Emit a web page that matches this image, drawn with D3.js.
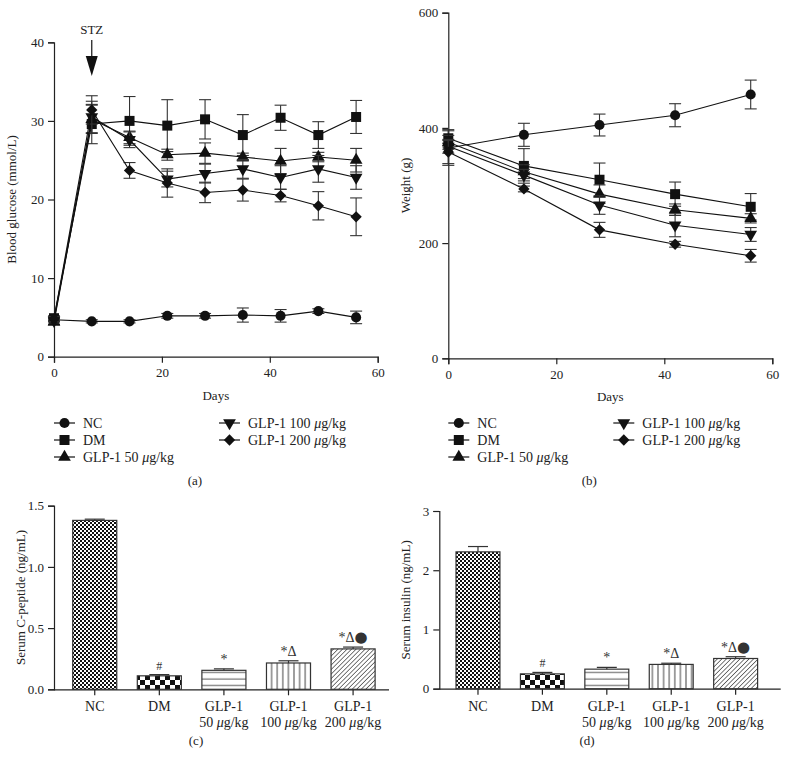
<!DOCTYPE html>
<html>
<head>
<meta charset="utf-8">
<script src="https://cdn.jsdelivr.net/npm/d3@7"></script>
<style>
  html, body { margin: 0; padding: 0; background: #fff; }
  svg { display: block; font-family: "Liberation Serif", "DejaVu Serif", serif; }
</style>
</head>
<body>
<svg id="chart" width="786" height="773"></svg>
<script>
// ---------------- DATA ----------------
const groups = ["NC", "DM", "GLP-1 50 μg/kg", "GLP-1 100 μg/kg", "GLP-1 200 μg/kg"];
const symbolsKeys = ["circle", "square", "triangle", "triangleDown", "diamond"];

// Panel (a): blood glucose (mmol/L)
const daysGlucose = [0, 7, 14, 21, 28, 35, 42, 49, 56];
const glucoseNC      = [4.7, 4.5, 4.5, 5.2, 5.2, 5.3, 5.2, 5.8, 5.0];
const glucoseNCErr   = [0.2, 0.2, 0.2, 0.3, 0.3, 0.9, 0.8, 0.3, 0.8];
const glucoseDM      = [4.9, 29.6, 30.0, 29.4, 30.2, 28.2, 30.4, 28.2, 30.5];
const glucoseDMErr   = [0.3, 2.5, 3.1, 3.3, 2.5, 2.6, 1.6, 1.7, 2.1];
const glucose50      = [4.4, 30.2, 27.9, 25.7, 25.9, 25.4, 24.9, 25.4, 25.0];
const glucose50Err   = [0.3, 1.8, 0.8, 0.7, 1.3, 0.5, 1.6, 0.6, 1.5];
const glucose100     = [4.6, 30.5, 27.6, 22.6, 23.3, 23.9, 22.8, 23.9, 22.8];
const glucose100Err  = [0.3, 2.0, 1.0, 1.0, 1.2, 1.2, 1.5, 1.7, 1.5];
const glucose200     = [4.8, 31.4, 23.7, 22.1, 20.9, 21.2, 20.5, 19.2, 17.8];
const glucose200Err  = [0.3, 1.8, 1.0, 1.8, 1.3, 1.4, 0.8, 1.8, 2.4];

// Panel (b): weight (g)
const daysWeight = [0, 14, 28, 42, 56];
const weightNC     = [365, 388, 405, 422, 458];
const weightNCErr  = [30, 20, 19, 20, 25];
const weightDM     = [382, 334, 310, 285, 263];
const weightDMErr  = [15, 30, 29, 21, 23];
const weight50     = [375, 324, 285, 258, 243];
const weight50Err  = [12, 12, 16, 10, 8];
const weight100    = [368, 318, 266, 231, 215];
const weight100Err = [12, 10, 16, 20, 12];
const weight200    = [358, 294, 223, 198, 178];
const weight200Err = [20, 5, 13, 5, 11];

// Panels (c), (d): bars
const barLine1 = ["NC", "DM", "GLP-1", "GLP-1", "GLP-1"];
const barLine2 = ["", "", "50", "100", "200"];
const cPeptide    = [1.38, 0.11, 0.155, 0.215, 0.33];
const cPeptideErr = [0.01, 0.01, 0.012, 0.018, 0.015];
const insulin     = [2.31, 0.25, 0.33, 0.41, 0.51];
const insulinErr  = [0.09, 0.025, 0.03, 0.02, 0.03];
const sigLabels   = ["", "#", "*", "*Δ", "*Δ●"];

const glucoseTicks = [0, 10, 20, 30, 40];
const weightTicks = [0, 200, 400, 600];
const dayTicks = [0, 20, 40, 60];
const cPeptideTicks = [0, 0.5, 1.0, 1.5];
const insulinTicks = [0, 1, 2, 3];

// ---------------- DRAWING ----------------
const svg = d3.select("#chart");
const ink = "#111";
const fontSize = 13;

const symbolTypes = {
  circle: { type: d3.symbolCircle, size: 80, rot: 0 },
  square: { type: d3.symbolSquare, size: 100, rot: 0 },
  triangle: { type: d3.symbolTriangle, size: 70, rot: 0 },
  triangleDown: { type: d3.symbolTriangle, size: 70, rot: 180 },
  diamond: { type: d3.symbolSquare, size: 64, rot: 45 }
};
function drawSymbol(g, key, x, y) {
  const s = symbolTypes[key];
  g.append("path")
    .attr("d", d3.symbol().type(s.type).size(s.size)())
    .attr("transform", `translate(${x},${y}) rotate(${s.rot})`)
    .attr("fill", ink);
}

function styleAxis(g) {
  g.selectAll(".domain").attr("stroke", "#222").attr("stroke-width", 1.2);
  g.selectAll(".tick line").attr("stroke", "#222").attr("stroke-width", 1.2);
  g.selectAll(".tick text").attr("font-family", "Liberation Serif").attr("font-size", fontSize).attr("fill", "#222");
}

function addMuText(sel, str) {
  const parts = str.split("μ");
  sel.append("tspan").text(parts[0]);
  for (let i = 1; i < parts.length; i++) {
    sel.append("tspan").attr("font-style", "italic").text("μ");
    sel.append("tspan").text(parts[i]);
  }
}

function linePanel(opt) {
  const g = svg.append("g");
  const x = d3.scaleLinear().domain([0, 60]).range([opt.x0, opt.x1]);
  const y = d3.scaleLinear().domain(opt.yDomain).range([opt.y0, opt.y1]);

  const xa = g.append("g").attr("transform", `translate(0,${opt.y0})`)
    .call(d3.axisBottom(x).tickValues(dayTicks).tickSize(6).tickPadding(5).tickFormat(d3.format("d")));
  styleAxis(xa);
  const ya = g.append("g").attr("transform", `translate(${opt.x0},0)`)
    .call(d3.axisLeft(y).tickValues(opt.yTicks).tickSize(6).tickPadding(4).tickFormat(d3.format("d")));
  styleAxis(ya);

  g.append("text").attr("x", (opt.x0 + opt.x1) / 2).attr("y", opt.y0 + 43)
    .attr("text-anchor", "middle").attr("font-size", fontSize).attr("fill", "#222").text("Days");
  g.append("text")
    .attr("transform", `translate(${opt.x0 - 38},${(opt.y0 + opt.y1) / 2}) rotate(-90)`)
    .attr("text-anchor", "middle").attr("font-size", fontSize).attr("fill", "#222").text(opt.yLabel);

  const line = d3.line().x(d => x(d.day)).y(d => y(d.v));
  opt.series.forEach((s, si) => {
    const pts = opt.days.map((d, i) => ({ day: d, v: s.values[i], e: s.err[i] }));
    pts.forEach(p => {
      const cx = x(p.day);
      g.append("line").attr("x1", cx).attr("x2", cx).attr("y1", y(p.v - p.e)).attr("y2", y(p.v + p.e))
        .attr("stroke", "#333").attr("stroke-width", 1.1);
      [p.v - p.e, p.v + p.e].forEach(val => {
        g.append("line").attr("x1", cx - 6).attr("x2", cx + 6).attr("y1", y(val)).attr("y2", y(val))
          .attr("stroke", "#333").attr("stroke-width", 1.1);
      });
    });
    g.append("path").datum(pts).attr("d", line).attr("fill", "none")
      .attr("stroke", ink).attr("stroke-width", 1.1);
    pts.forEach(p => drawSymbol(g, symbolsKeys[si], x(p.day), y(p.v)));
  });

  const legPos = [
    [opt.x0, 423], [opt.x0, 440], [opt.x0, 457], [opt.x0 + 165, 423], [opt.x0 + 165, 440]
  ];
  groups.forEach((name, i) => {
    const [lx, ly] = legPos[i];
    g.append("line").attr("x1", lx).attr("x2", lx + 21).attr("y1", ly).attr("y2", ly)
      .attr("stroke", ink).attr("stroke-width", 1.2);
    drawSymbol(g, symbolsKeys[i], lx + 10.5, ly);
    const t = g.append("text").attr("x", lx + 29).attr("y", ly + 4.5)
      .attr("font-size", 14).attr("fill", "#222");
    addMuText(t, name);
  });
  g.append("text").attr("x", (opt.x0 + opt.x1) / 2 - 21).attr("y", 485)
    .attr("text-anchor", "middle").attr("font-size", fontSize).attr("fill", "#222").text(opt.tag);
  return { g, x, y };
}

const pa = linePanel({
  x0: 54, x1: 377.7, y0: 356.7, y1: 42.3, yDomain: [0, 40], yTicks: glucoseTicks,
  yLabel: "Blood glucose (mmol/L)", tag: "(a)", days: daysGlucose,
  series: [
    { values: glucoseNC, err: glucoseNCErr },
    { values: glucoseDM, err: glucoseDMErr },
    { values: glucose50, err: glucose50Err },
    { values: glucose100, err: glucose100Err },
    { values: glucose200, err: glucose200Err }
  ]
});
{
  const ax = pa.x(7);
  pa.g.append("text").attr("x", ax).attr("y", 34).attr("text-anchor", "middle")
    .attr("font-size", fontSize).attr("fill", "#222").text("STZ");
  pa.g.append("line").attr("x1", ax).attr("x2", ax).attr("y1", 40).attr("y2", 60)
    .attr("stroke", ink).attr("stroke-width", 1.2);
  pa.g.append("path").attr("d", `M${ax - 6},56 L${ax + 6},56 L${ax},76 Z`).attr("fill", ink);
}

linePanel({
  x0: 448.3, x1: 772.3, y0: 358.3, y1: 12.7, yDomain: [0, 600], yTicks: weightTicks,
  yLabel: "Weight (g)", tag: "(b)", days: daysWeight,
  series: [
    { values: weightNC, err: weightNCErr },
    { values: weightDM, err: weightDMErr },
    { values: weight50, err: weight50Err },
    { values: weight100, err: weight100Err },
    { values: weight200, err: weight200Err }
  ]
});

// ---------- patterns ----------
const defs = svg.append("defs");
function pat(id, w, h, build) {
  const p = defs.append("pattern").attr("id", id).attr("patternUnits", "userSpaceOnUse")
    .attr("width", w).attr("height", h);
  p.append("rect").attr("width", w).attr("height", h).attr("fill", "#fff");
  build(p);
}
pat("fineCheck", 4, 4, p => {
  p.append("rect").attr("x", 0).attr("y", 0).attr("width", 2).attr("height", 2).attr("fill", "#111");
  p.append("rect").attr("x", 2).attr("y", 2).attr("width", 2).attr("height", 2).attr("fill", "#111");
});
pat("bigCheck", 10, 10, p => {
  p.append("rect").attr("x", 0).attr("y", 0).attr("width", 5).attr("height", 5).attr("fill", "#111");
  p.append("rect").attr("x", 5).attr("y", 5).attr("width", 5).attr("height", 5).attr("fill", "#111");
});
pat("hLines", 10, 6.5, p => {
  p.append("line").attr("x1", 0).attr("x2", 10).attr("y1", 3).attr("y2", 3).attr("stroke", "#555").attr("stroke-width", 1);
});
pat("vLines", 5.6, 10, p => {
  p.append("line").attr("x1", 2.8).attr("x2", 2.8).attr("y1", 0).attr("y2", 10).attr("stroke", "#444").attr("stroke-width", 1);
});
defs.append("pattern").attr("id", "diag").attr("patternUnits", "userSpaceOnUse")
  .attr("width", 3.2).attr("height", 3.2).attr("patternTransform", "rotate(45)")
  .call(p => {
    p.append("rect").attr("width", 3.2).attr("height", 3.2).attr("fill", "#fff");
    p.append("line").attr("x1", 0).attr("x2", 0).attr("y1", 0).attr("y2", 3.2).attr("stroke", "#333").attr("stroke-width", 1.3);
  });
const fills = ["url(#fineCheck)", "url(#bigCheck)", "url(#hLines)", "url(#vLines)", "url(#diag)"];

function barPanel(opt) {
  const g = svg.append("g");
  const idx = d3.range(5);
  const x = d3.scaleBand().domain(idx).range([opt.x0, opt.x1])
    .paddingInner(0.318).paddingOuter(opt.po).align(opt.align);
  const y = d3.scaleLinear().domain(opt.yDomain).range([opt.y0, opt.y1]);

  const xa = g.append("g").attr("transform", `translate(0,${opt.y0})`)
    .call(d3.axisBottom(x).tickSize(6).tickFormat(() => ""));
  styleAxis(xa);
  xa.selectAll(".domain").attr("d", `M${opt.x0},0.5H${opt.x1}`);
  const ya = g.append("g").attr("transform", `translate(${opt.x0},0)`)
    .call(d3.axisLeft(y).tickValues(opt.yTicks).tickSize(6).tickPadding(4).tickFormat(opt.fmt));
  styleAxis(ya);

  idx.forEach(i => {
    const cx = x(i) + x.bandwidth() / 2;
    g.append("text").attr("x", cx).attr("y", opt.y0 + 22).attr("text-anchor", "middle")
      .attr("font-size", 14).attr("fill", "#222").text(barLine1[i]);
    if (barLine2[i]) {
      const t = g.append("text").attr("x", cx).attr("y", opt.y0 + 38).attr("text-anchor", "middle")
        .attr("font-size", 14).attr("fill", "#222");
      addMuText(t, barLine2[i] + " μg/kg");
    }
  });

  g.append("text")
    .attr("transform", `translate(${opt.x0 - 29},${(opt.y0 + opt.y1) / 2}) rotate(-90)`)
    .attr("text-anchor", "middle").attr("font-size", fontSize).attr("fill", "#222").text(opt.yLabel);

  idx.forEach(i => {
    const bx = x(i), bw = x.bandwidth();
    const v = opt.values[i], e = opt.err[i];
    g.append("rect").attr("x", bx).attr("y", y(v)).attr("width", bw).attr("height", opt.y0 - y(v))
      .attr("fill", fills[i]).attr("stroke", "#333").attr("stroke-width", 1.2);
    const cx = bx + bw / 2;
    g.append("line").attr("x1", cx).attr("x2", cx).attr("y1", y(v)).attr("y2", y(v + e))
      .attr("stroke", "#333").attr("stroke-width", 1.2);
    g.append("line").attr("x1", cx - 10).attr("x2", cx + 10).attr("y1", y(v + e)).attr("y2", y(v + e))
      .attr("stroke", "#333").attr("stroke-width", 1.2);
    if (sigLabels[i]) {
      const t = g.append("text").attr("x", cx).attr("y", y(v + e) - 5).attr("text-anchor", "middle")
        .attr("font-size", i === 1 ? 12 : 14).attr("fill", "#333");
      const parts = sigLabels[i].split("●");
      t.append("tspan").text(parts[0]);
      if (parts.length > 1) {
        t.append("tspan").attr("font-family", "DejaVu Sans").attr("font-size", 15).text("●");
      }
    }
  });
  g.append("text").attr("x", opt.tagX).attr("y", 745)
    .attr("text-anchor", "middle").attr("font-size", fontSize).attr("fill", "#222").text(opt.tag);
}

barPanel({
  x0: 54, x1: 389, y0: 689.3, y1: 505.7, yDomain: [0, 1.5], yTicks: cPeptideTicks,
  fmt: d3.format(".1f"), po: 0.2525, align: 0.574,
  values: cPeptide, err: cPeptideErr, yLabel: "Serum C-peptide (ng/mL)", tag: "(c)", tagX: 196
});
barPanel({
  x0: 439.3, x1: 780.7, y0: 688.7, y1: 511, yDomain: [0, 3], yTicks: insulinTicks,
  fmt: d3.format("d"), po: 0.309, align: 0.42,
  values: insulin, err: insulinErr, yLabel: "Serum insulin (ng/mL)", tag: "(d)", tagX: 587
});
</script>
</body>
</html>
